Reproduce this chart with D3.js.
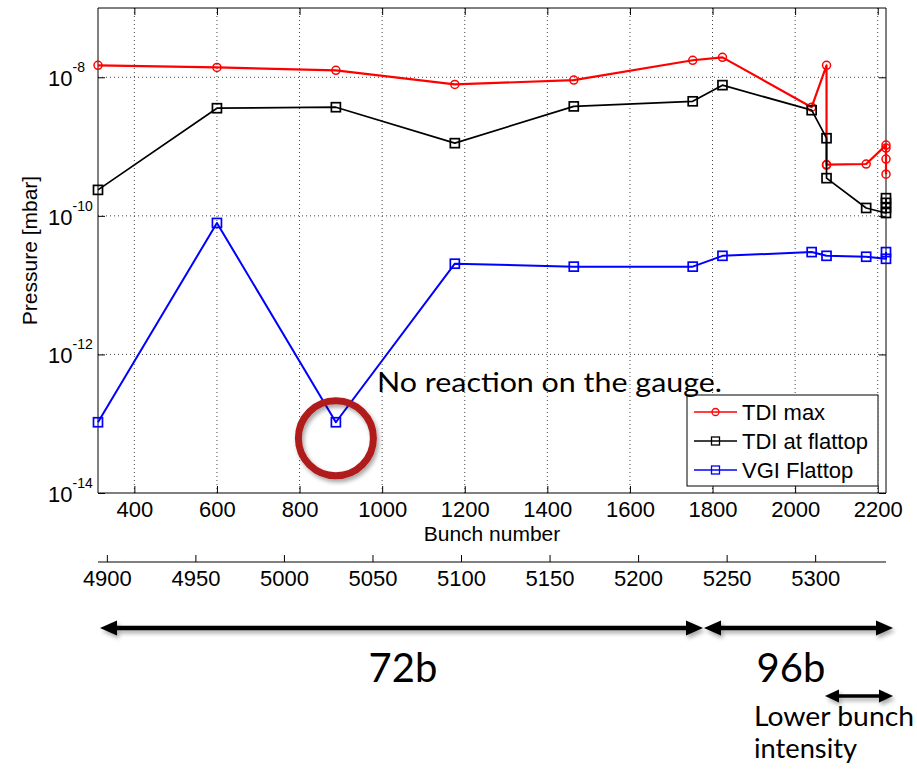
<!DOCTYPE html>
<html>
<head>
<meta charset="utf-8">
<script src="https://cdn.jsdelivr.net/npm/d3@7"></script>
<style>
  body { margin: 0; background: #fff; }
  svg text { font-family: "Liberation Sans", Arial, sans-serif; }
  .note { font-family: Lato, "Open Sans", sans-serif; }
</style>
</head>
<body>
<div id="chart"></div>
<script>
// bunch numbers of each measurement (x) per series
var bunchMax = [312, 600, 888, 1176, 1464, 1752, 1824, 2040, 2076, 2076, 2076, 2172, 2220, 2220, 2220, 2220];
var tdiMax = [1.49e-8, 1.39e-8, 1.26e-8, 7.9e-9, 9.1e-9, 1.76e-8, 1.94e-8, 3.7e-9, 1.49e-8, 5.4e-10, 5.5e-10, 5.6e-10, 1.05e-9, 9.5e-10, 6.6e-10, 4.0e-10];

var bunchFlat = [312, 600, 888, 1176, 1464, 1752, 1824, 2040, 2076, 2076, 2172, 2220, 2220, 2220, 2220];
var tdiFlattop = [2.37e-10, 3.58e-9, 3.7e-9, 1.12e-9, 3.8e-9, 4.5e-9, 7.7e-9, 3.35e-9, 1.32e-9, 3.5e-10, 1.3e-10, 1.1e-10, 1.3e-10, 1.54e-10, 1.8e-10];

var bunchVgi = [312, 600, 888, 1176, 1464, 1752, 1824, 2040, 2076, 2172, 2220, 2220];
var vgiFlattop = [1.05e-13, 7.9e-11, 1.05e-13, 2.04e-11, 1.85e-11, 1.85e-11, 2.65e-11, 3.0e-11, 2.65e-11, 2.57e-11, 2.4e-11, 3.0e-11];

var bunchTicks = [400, 600, 800, 1000, 1200, 1400, 1600, 1800, 2000, 2200];
var fillTicks = [4900, 4950, 5000, 5050, 5100, 5150, 5200, 5250, 5300];
var pressureTicks = [1e-14, 1e-12, 1e-10, 1e-8];
var seriesNames = ['TDI max', 'TDI at flattop', 'VGI Flattop'];

var width = 917, height = 774;
var margin = {top: 8, right: 31, bottom: 281, left: 98};
var innerW = width - margin.left - margin.right;
var innerH = height - margin.top - margin.bottom;

var x = d3.scaleLinear().domain([312, 2220]).range([0, innerW]);
var y = d3.scaleLog().domain([1e-14, 1e-7]).range([innerH, 0]);
var xFill = d3.scaleLinear().domain([4895, 5340]).range([0, innerW]);

var svg = d3.select('#chart').append('svg')
    .attr('width', width)
    .attr('height', height);

var defs = svg.append('defs');
var shadow = defs.append('filter').attr('id', 'shadow')
    .attr('x', '-20%').attr('y', '-50%').attr('width', '140%').attr('height', '200%');
shadow.append('feDropShadow')
    .attr('dx', 2).attr('dy', 3).attr('stdDeviation', 2)
    .attr('flood-color', '#000').attr('flood-opacity', 0.35);

var g = svg.append('g')
    .attr('transform', 'translate(' + margin.left + ',' + margin.top + ')');

// dotted grid
g.selectAll('line.vgrid')
    .data(bunchTicks)
    .enter().append('line')
    .attr('class', 'vgrid')
    .attr('x1', function (d) { return x(d); })
    .attr('x2', function (d) { return x(d); })
    .attr('y1', 0).attr('y2', innerH)
    .attr('stroke', '#444').attr('stroke-width', 1)
    .attr('stroke-dasharray', '1,3');

g.selectAll('line.hgrid')
    .data(pressureTicks.slice(1))
    .enter().append('line')
    .attr('class', 'hgrid')
    .attr('x1', 0).attr('x2', innerW)
    .attr('y1', function (d) { return y(d); })
    .attr('y2', function (d) { return y(d); })
    .attr('stroke', '#444').attr('stroke-width', 1)
    .attr('stroke-dasharray', '1,3');

// axes (matlab style, ticks pointing inward, box on)
var xAxis = d3.axisBottom(x).tickValues(bunchTicks).tickSize(-7).tickPadding(8)
    .tickFormat(d3.format('d'));
g.append('g').attr('transform', 'translate(0,' + innerH + ')').call(xAxis)
    .call(function (a) {
        a.selectAll('text').attr('font-size', 22).attr('fill', '#000')
            .attr('font-family', '"Liberation Sans", Arial, sans-serif');
        a.selectAll('line').attr('stroke', '#000');
        a.select('.domain').attr('stroke', '#000').attr('d', 'M0,0H' + innerW);
    });
g.append('g').call(d3.axisTop(x).tickValues(bunchTicks).tickSize(-7).tickFormat(''))
    .call(function (a) {
        a.selectAll('line').attr('stroke', '#000');
        a.select('.domain').attr('stroke', '#000').attr('d', 'M0,0H' + innerW);
    });

var yAxis = d3.axisLeft(y).tickValues(pressureTicks).tickSize(-7).tickFormat('');
g.append('g').call(yAxis)
    .call(function (a) {
        a.selectAll('line').attr('stroke', '#000');
        a.select('.domain').attr('stroke', '#000').attr('d', 'M0,0V' + innerH);
    });
g.append('g').attr('transform', 'translate(' + innerW + ',0)')
    .call(d3.axisRight(y).tickValues(pressureTicks).tickSize(-7).tickFormat(''))
    .call(function (a) {
        a.selectAll('line').attr('stroke', '#000');
        a.select('.domain').attr('stroke', '#000').attr('d', 'M0,0V' + innerH);
    });

// y tick labels as 10^n
var ylab = g.selectAll('text.ylab')
    .data(pressureTicks)
    .enter().append('text')
    .attr('class', 'ylab')
    .attr('x', -50)
    .attr('y', function (d) { return y(d) + 9; })
    .attr('font-size', 22)
    .attr('fill', '#000');
ylab.append('tspan').text('10');
ylab.append('tspan')
    .attr('dy', -14)
    .attr('font-size', 14)
    .text(function (d) { return '-' + Math.round(-Math.log10(d)); });

// axis labels
g.append('text')
    .attr('x', innerW / 2).attr('y', innerH + 48)
    .attr('text-anchor', 'middle').attr('font-size', 21)
    .text('Bunch number');

g.append('text')
    .attr('transform', 'translate(' + (-61) + ',' + (innerH / 2) + ')rotate(-90)')
    .attr('text-anchor', 'middle').attr('font-size', 21)
    .text('Pressure [mbar]');

// series
var series = [
    {name: seriesNames[0], xs: bunchMax, ys: tdiMax, color: '#ff0000', marker: 'circle', lw: 2.2},
    {name: seriesNames[1], xs: bunchFlat, ys: tdiFlattop, color: '#000000', marker: 'square', lw: 1.7},
    {name: seriesNames[2], xs: bunchVgi, ys: vgiFlattop, color: '#0000ff', marker: 'square', lw: 2}
];

var line = d3.line()
    .x(function (d) { return x(d[0]); })
    .y(function (d) { return y(d[1]); });

function drawMarker(sel, s) {
    if (s.marker === 'circle') {
        sel.append('circle').attr('r', 4)
            .attr('fill', 'none').attr('stroke', s.color).attr('stroke-width', 1.5);
    } else {
        sel.append('rect').attr('x', -4.5).attr('y', -4.5)
            .attr('width', 9).attr('height', 9)
            .attr('fill', 'none').attr('stroke', s.color).attr('stroke-width', 1.7);
    }
}

series.forEach(function (s) {
    var pts = s.xs.map(function (v, i) { return [v, s.ys[i]]; });
    g.append('path')
        .datum(pts)
        .attr('d', line)
        .attr('fill', 'none')
        .attr('stroke', s.color)
        .attr('stroke-width', s.lw)
        .attr('stroke-linejoin', 'round');
    g.selectAll(null)
        .data(pts)
        .enter().append('g')
        .attr('transform', function (d) { return 'translate(' + x(d[0]) + ',' + y(d[1]) + ')'; })
        .each(function () { drawMarker(d3.select(this), s); });
});

// legend
var legend = g.append('g').attr('transform', 'translate(' + (687 - margin.left) + ',' + (395 - margin.top) + ')');
legend.append('rect')
    .attr('width', 191).attr('height', 91)
    .attr('fill', '#fff').attr('stroke', '#000').attr('stroke-width', 1);
var item = legend.selectAll('g.item')
    .data(series)
    .enter().append('g')
    .attr('class', 'item')
    .attr('transform', function (d, i) { return 'translate(0,' + (17 + i * 29) + ')'; });
item.append('line')
    .attr('x1', 7).attr('x2', 50)
    .attr('stroke', function (d) { return d.color; })
    .attr('stroke-width', 1.5);
item.append('g')
    .attr('transform', 'translate(28.5,0)')
    .each(function (d) {
        var m = d3.select(this);
        if (d.marker === 'circle') {
            m.append('circle').attr('r', 3.5).attr('fill', 'none')
                .attr('stroke', d.color).attr('stroke-width', 1.3);
        } else {
            m.append('rect').attr('x', -4).attr('y', -4).attr('width', 8).attr('height', 8)
                .attr('fill', 'none').attr('stroke', d.color).attr('stroke-width', 1.3);
        }
    });
item.append('text')
    .attr('x', 55).attr('y', 8)
    .attr('font-size', 22)
    .text(function (d) { return d.name; });

// second axis: fill number
var fillG = svg.append('g').attr('transform', 'translate(' + margin.left + ',562)');
fillG.call(d3.axisBottom(xFill).tickValues(fillTicks).tickSize(-7).tickPadding(8)
        .tickFormat(d3.format('d')))
    .call(function (a) {
        a.selectAll('text').attr('font-size', 22).attr('fill', '#000')
            .attr('font-family', '"Liberation Sans", Arial, sans-serif');
        a.selectAll('line').attr('stroke', '#000');
        a.select('.domain').attr('stroke', '#000').attr('d', 'M0,0H' + innerW);
    });
fillG.append('text')
    .attr('x', innerW / 2).attr('y', 47)
    .attr('text-anchor', 'middle').attr('font-size', 21)
    .text('Fill number');

// annotation: highlight circle round the silent gauge point
g.append('circle')
    .attr('cx', x(bunchVgi[2]))
    .attr('cy', y(vgiFlattop[2]) + 16)
    .attr('r', 37.5)
    .attr('fill', 'none')
    .attr('stroke', '#b01c1c')
    .attr('stroke-width', 7)
    .attr('filter', 'url(#shadow)');

svg.append('text')
    .attr('class', 'note')
    .attr('x', 377).attr('y', 392)
    .attr('font-size', 27)
    .attr('textLength', 345)
    .attr('lengthAdjust', 'spacingAndGlyphs')
    .text('No reaction on the gauge.');

// double headed arrows for the filling schemes
function arrow(x1, x2, yy, w, head, hw) {
    var a = svg.append('g').attr('filter', 'url(#shadow)');
    a.append('line')
        .attr('x1', x1 + head - 2).attr('x2', x2 - head + 2)
        .attr('y1', yy).attr('y2', yy)
        .attr('stroke', '#000').attr('stroke-width', w);
    a.append('path')
        .attr('d', 'M' + x1 + ',' + yy + 'L' + (x1 + head) + ',' + (yy - hw) + 'L' + (x1 + head) + ',' + (yy + hw) + 'Z')
        .attr('fill', '#000');
    a.append('path')
        .attr('d', 'M' + x2 + ',' + yy + 'L' + (x2 - head) + ',' + (yy - hw) + 'L' + (x2 - head) + ',' + (yy + hw) + 'Z')
        .attr('fill', '#000');
}
arrow(100, 703, 628, 4.5, 17, 7.5);
arrow(704, 893, 628, 4.5, 17, 7.5);
arrow(825, 893, 696, 3.5, 14, 6.5);

svg.append('text').attr('class', 'note')
    .attr('x', 403).attr('y', 682)
    .attr('text-anchor', 'middle')
    .attr('font-size', 40)
    .text('72b');
svg.append('text').attr('class', 'note')
    .attr('x', 791).attr('y', 682)
    .attr('text-anchor', 'middle')
    .attr('font-size', 40)
    .text('96b');
svg.append('text').attr('class', 'note')
    .attr('x', 754).attr('y', 726)
    .attr('font-size', 26)
    .attr('textLength', 160)
    .attr('lengthAdjust', 'spacingAndGlyphs')
    .text('Lower bunch');
svg.append('text').attr('class', 'note')
    .attr('x', 754).attr('y', 758)
    .attr('font-size', 26)
    .attr('textLength', 103)
    .attr('lengthAdjust', 'spacingAndGlyphs')
    .text('intensity');
</script>
</body>
</html>
